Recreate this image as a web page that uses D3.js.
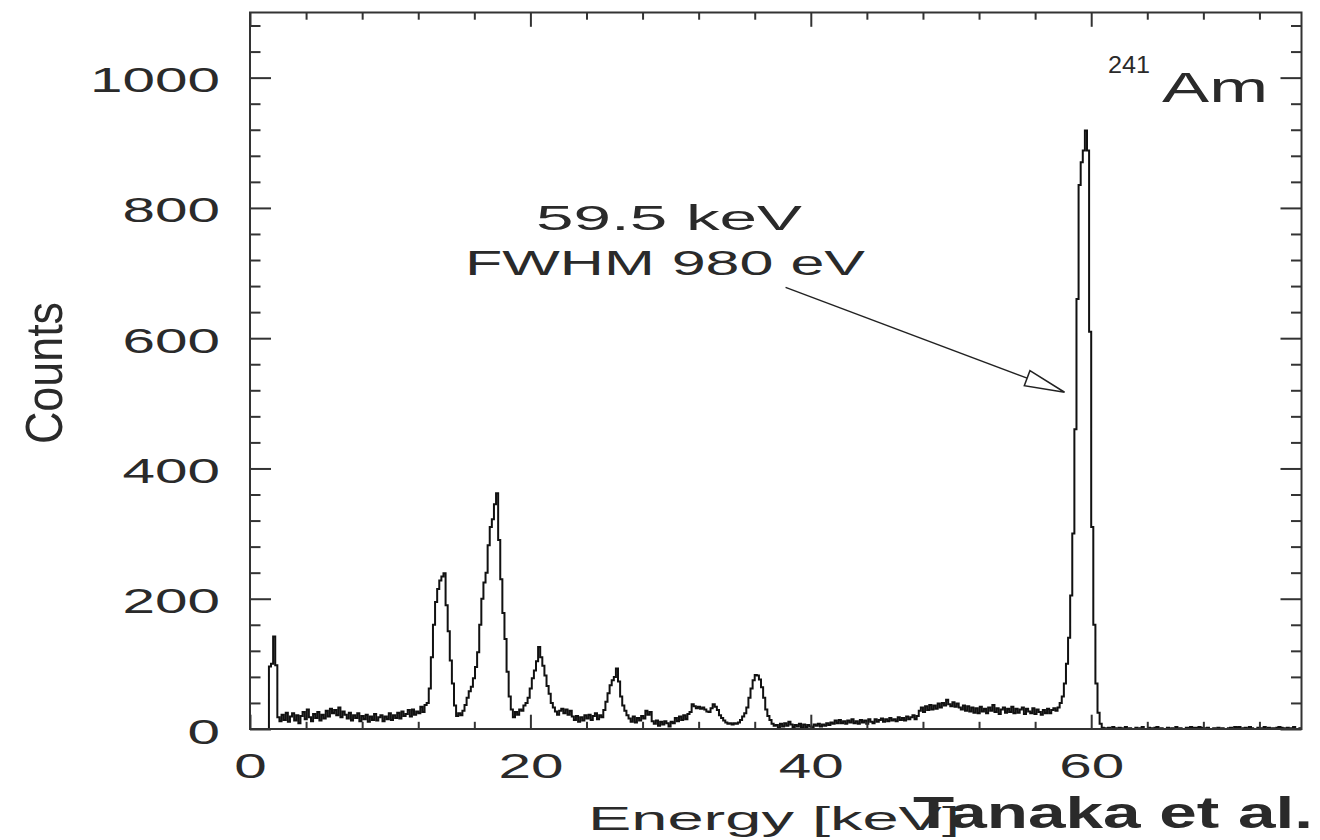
<!DOCTYPE html>
<html>
<head>
<meta charset="utf-8">
<script src="https://cdn.jsdelivr.net/npm/d3@7"></script>
<style>
    html, body { margin: 0; padding: 0; background: #fff; overflow: hidden; }
    svg { display: block; }
    text { font-family: "Liberation Sans", Arial, sans-serif; fill: #2a2a2a; }
</style>
</head>
<body>
<svg id="chart" width="1320" height="840"></svg>
<script>
// 241Am spectrum, histogram bins of 0.15 keV starting at 0 keV
const binStart = 0;
const binWidth = 0.15;
const counts = [
    0, 0, 0, 0, 0, 0, 0, 0, 0, 96,
    100, 142, 98, 18, 12, 22, 14, 25, 11, 19,
    24, 13, 21, 9, 20, 26, 15, 30, 18, 12,
    23, 17, 26, 13, 22, 16, 28, 19, 31, 24,
    29, 21, 33, 18, 27, 22, 16, 25, 13, 21,
    17, 24, 12, 20, 15, 22, 11, 19, 14, 23,
    13, 18, 21, 12, 19, 15, 24, 14, 21, 17,
    25, 16, 27, 20, 23, 29, 19, 30, 22, 27,
    24, 34, 26, 37, 40, 62, 110, 160, 195, 215,
    228, 234, 239, 190, 150, 105, 70, 36, 20, 24,
    21, 28, 37, 48, 58, 65, 78, 95, 118, 160,
    200, 225, 240, 282, 310, 322, 345, 362, 290, 230,
    178, 138, 88, 50, 30, 18, 26, 22, 30, 28,
    36, 40, 48, 62, 78, 90, 104, 126, 110, 97,
    82, 66, 54, 40, 33, 27, 22, 28, 31, 24,
    30, 22, 28, 19, 14, 20, 11, 18, 13, 21,
    16, 22, 14, 20, 24, 15, 21, 18, 29, 42,
    55, 67, 75, 80, 93, 73, 50, 36, 28, 21,
    16, 11, 19, 10, 17, 13, 20, 16, 28, 22,
    26, 12, 8, 13, 5, 11, 7, 12, 9, 4,
    11, 9, 17, 12, 19, 14, 21, 15, 23, 26,
    38, 35, 32, 34, 31, 33, 30, 27, 26, 32,
    38, 34, 29, 21, 17, 13, 10, 8, 9, 7,
    9, 8, 10, 14, 19, 24, 33, 48, 62, 75,
    83, 82, 76, 64, 48, 30, 20, 14, 8, 5,
    6, 2, 8, 4, 9, 5, 11, 7, 3, 6,
    4, 8, 2, 7, 3, 6, 4, 2, 7, 5,
    8, 4, 7, 5, 9, 6, 10, 8, 13, 9,
    14, 9, 12, 8, 13, 10, 15, 9, 12, 8,
    14, 10, 13, 8, 15, 11, 9, 15, 11, 14,
    16, 11, 15, 12, 17, 13, 15, 12, 18, 14,
    17, 13, 19, 15, 18, 21, 15, 20, 28, 33,
    26, 35, 29, 37, 30, 36, 31, 39, 33, 40,
    36, 45, 38, 35, 41, 34, 39, 33, 30, 36,
    28, 35, 27, 33, 25, 32, 24, 34, 27, 31,
    24, 33, 28, 37, 26, 32, 23, 30, 33, 25,
    31, 26, 34, 24, 31, 25, 30, 33, 23, 31,
    27, 24, 32, 23, 30, 26, 22, 29, 24, 31,
    24, 29, 32, 28, 33, 40, 50, 70, 100, 140,
    205, 300, 460, 660, 835, 870, 888, 919, 888, 610,
    310, 160, 70, 25, 8, 2, 1, 0, 2, 0,
    3, 1, 0, 2, 1, 0, 3, 0, 1, 0,
    0, 2, 0, 1, 3, 0, 0, 2, 1, 0,
    2, 3, 0, 1, 0, 0, 2, 0, 1, 0,
    3, 0, 1, 0, 0, 2, 1, 3, 2, 2,
    1, 3, 2, 0, 1, 2, 0, 0, 1, 0,
    2, 0, 1, 0, 0, 1, 2, 0, 3, 2,
    3, 0, 1, 2, 0, 3, 1, 0, 0, 2,
    0, 1, 3, 0, 2, 0, 1, 0, 2, 3,
    2, 1, 0, 2, 0, 1, 3, 0, 0, 1
];

// axes
const xDomain = [0, 75];
const yDomain = [0, 1100];
const xMajor = [0, 20, 40, 60];
const yMajor = [0, 200, 400, 600, 800, 1000];
const xMinorStep = 4;
const yMinorStep = 40;

// annotation (energy keV, counts)
const peakText = ["59.5 keV", "FWHM 980 eV"];
const arrowFrom = [38.2, 678];
const arrowTo = [58.1, 517];

const svg = d3.select("#chart");
const plotLeft = 250, plotRight = 1301.5, plotTop = 12.5, plotBottom = 729;
const stretch = 1.67; // wide IDL-like lettering
const axisColor = "#333";
const textColor = "#2a2a2a";

const x = d3.scaleLinear().domain(xDomain).range([plotLeft, plotRight]);
const y = d3.scaleLinear().domain(yDomain).range([plotBottom, plotTop]);

const xMinor = d3.range(xDomain[0], xDomain[1] + 0.001, xMinorStep).filter(v => !xMajor.includes(v));
const yMinor = d3.range(yDomain[0], yDomain[1] + 0.001, yMinorStep).filter(v => !yMajor.includes(v));

// spectrum (step histogram)
const pts = counts.map((c, i) => [binStart + i * binWidth, c]);
pts.push([binStart + counts.length * binWidth, counts[counts.length - 1]]);
svg.append("path")
    .datum(pts)
    .attr("fill", "none")
    .attr("stroke", "#111")
    .attr("stroke-width", 2)
    .attr("stroke-linejoin", "miter")
    .attr("d", d3.line().x(d => x(d[0])).y(d => y(d[1])).curve(d3.curveStepAfter));

// 刻度：四边都朝内
function tickAxis(axis, transform) {
    const g = svg.append("g")
        .attr("transform", transform)
        .attr("color", axisColor)
        .call(axis);
    g.select(".domain").remove();
    g.selectAll(".tick line").attr("stroke-width", 2);
    return g;
}

// bottom
const gx = tickAxis(d3.axisBottom(x).tickValues(xMajor).tickSize(-14.3).tickSizeOuter(0)
    .tickPadding(24).tickFormat(d3.format("d")), `translate(0,${plotBottom})`);
gx.selectAll(".tick text")
    .attr("font-size", 35)
    .attr("font-family", '"Liberation Sans", Arial, sans-serif')
    .attr("fill", textColor)
    .attr("transform", `scale(${stretch},1)`);
tickAxis(d3.axisBottom(x).tickValues(xMinor).tickSize(-7.2).tickSizeOuter(0).tickFormat(""), `translate(0,${plotBottom})`);

// top
tickAxis(d3.axisTop(x).tickValues(xMajor).tickSize(-14.3).tickSizeOuter(0).tickFormat(""), `translate(0,${plotTop})`);
tickAxis(d3.axisTop(x).tickValues(xMinor).tickSize(-7.2).tickSizeOuter(0).tickFormat(""), `translate(0,${plotTop})`);

// left
const gy = tickAxis(d3.axisLeft(y).tickValues(yMajor).tickSize(-21).tickSizeOuter(0)
    .tickPadding(30).tickFormat(d3.format("d")), `translate(${plotLeft},0)`);
gy.selectAll(".tick text")
    .attr("font-size", 35)
    .attr("font-family", '"Liberation Sans", Arial, sans-serif')
    .attr("fill", textColor)
    .attr("x", -30 / stretch)
    .attr("dy", "0.4em")
    .attr("transform", `scale(${stretch},1)`);
tickAxis(d3.axisLeft(y).tickValues(yMinor).tickSize(-10.5).tickSizeOuter(0).tickFormat(""), `translate(${plotLeft},0)`);

// right
tickAxis(d3.axisRight(y).tickValues(yMajor).tickSize(-21).tickSizeOuter(0).tickFormat(""), `translate(${plotRight},0)`);
tickAxis(d3.axisRight(y).tickValues(yMinor).tickSize(-10.5).tickSizeOuter(0).tickFormat(""), `translate(${plotRight},0)`);

// frame
svg.append("rect")
    .attr("x", plotLeft).attr("y", plotTop)
    .attr("width", plotRight - plotLeft).attr("height", plotBottom - plotTop)
    .attr("fill", "none")
    .attr("stroke", axisColor)
    .attr("stroke-width", 2);

// axis titles
svg.append("text")
    .attr("x", 588).attr("y", 830)
    .attr("font-size", 34)
    .attr("textLength", 372)
    .attr("lengthAdjust", "spacingAndGlyphs")
    .text("Energy [keV]");

svg.append("text")
    .attr("transform", "translate(62,444) rotate(-90)")
    .attr("font-size", 52)
    .attr("textLength", 142)
    .attr("lengthAdjust", "spacingAndGlyphs")
    .text("Counts");

// peak annotation
svg.append("text")
    .attr("x", 536).attr("y", 230)
    .attr("font-size", 35)
    .attr("textLength", 266)
    .attr("lengthAdjust", "spacingAndGlyphs")
    .text(peakText[0]);
svg.append("text")
    .attr("x", 465).attr("y", 275)
    .attr("font-size", 35)
    .attr("textLength", 400)
    .attr("lengthAdjust", "spacingAndGlyphs")
    .text(peakText[1]);

// arrow with open head
const p0 = [x(arrowFrom[0]), y(arrowFrom[1])];
const p1 = [x(arrowTo[0]), y(arrowTo[1])];
const len = Math.hypot(p1[0] - p0[0], p1[1] - p0[1]);
const ux = (p1[0] - p0[0]) / len, uy = (p1[1] - p0[1]) / len;
const headLen = 40, headHalf = 8;
const base = [p1[0] - ux * headLen, p1[1] - uy * headLen];
svg.append("line")
    .attr("x1", p0[0]).attr("y1", p0[1])
    .attr("x2", base[0]).attr("y2", base[1])
    .attr("stroke", "#222").attr("stroke-width", 1.5);
svg.append("path")
    .attr("d", d3.line()([
        p1,
        [base[0] - uy * headHalf, base[1] + ux * headHalf],
        [base[0] + uy * headHalf, base[1] - ux * headHalf]
    ]) + "Z")
    .attr("fill", "#fff")
    .attr("stroke", "#222")
    .attr("stroke-width", 1.5);

// isotope label
svg.append("text")
    .attr("x", 1108).attr("y", 73)
    .attr("font-size", 24)
    .attr("textLength", 42)
    .attr("lengthAdjust", "spacingAndGlyphs")
    .text("241");
svg.append("text")
    .attr("x", 1162).attr("y", 102)
    .attr("font-size", 42)
    .attr("textLength", 106)
    .attr("lengthAdjust", "spacingAndGlyphs")
    .text("Am");

// citation
svg.append("text")
    .attr("x", 913).attr("y", 828)
    .attr("font-family", '"DejaVu Sans", Verdana, sans-serif')
    .attr("font-weight", "bold")
    .attr("font-size", 45)
    .attr("textLength", 400)
    .attr("lengthAdjust", "spacingAndGlyphs")
    .attr("fill", "#000")
    .text("Tanaka et al.");
</script>
</body>
</html>
